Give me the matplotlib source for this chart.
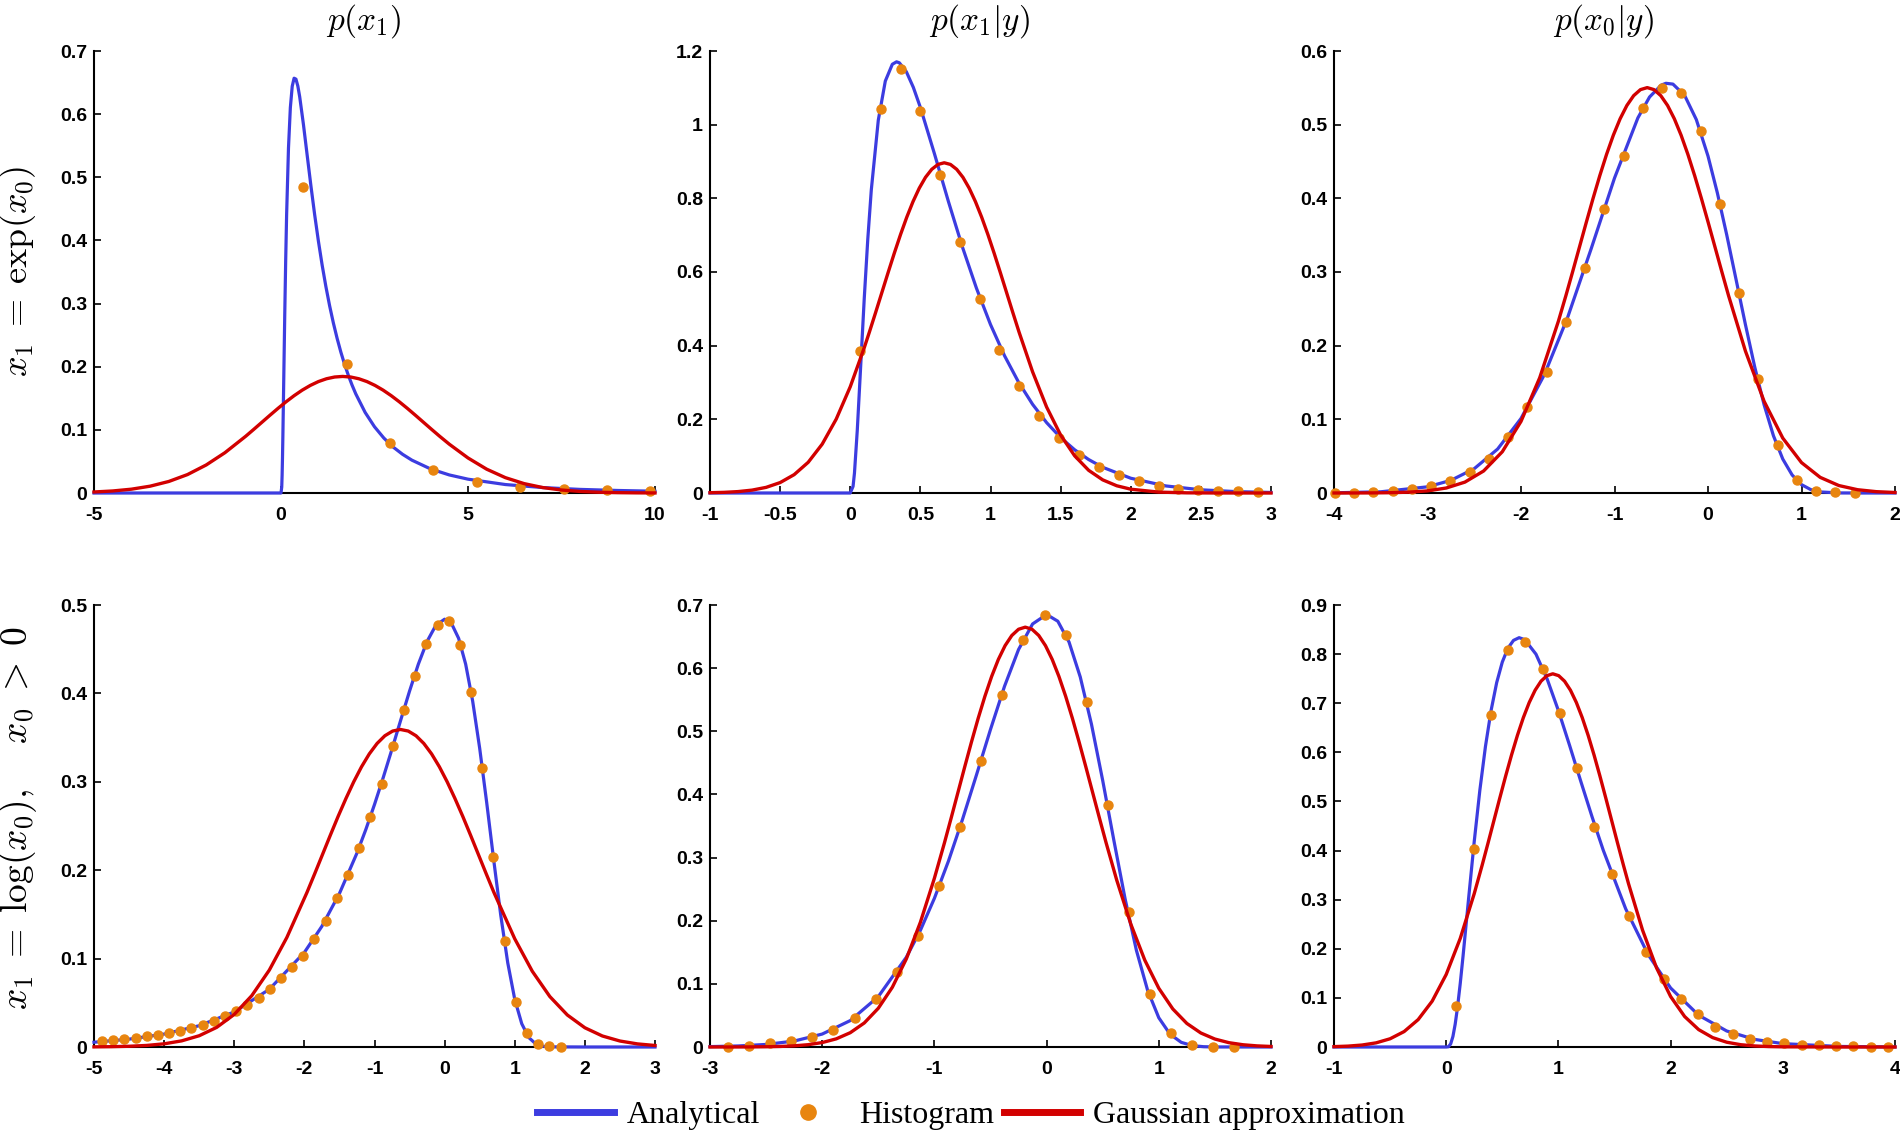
import matplotlib
matplotlib.use('Agg')
import matplotlib.pyplot as plt
from matplotlib.lines import Line2D
from matplotlib.ticker import FormatStrFormatter

plt.rcParams['mathtext.fontset'] = 'cm'
plt.rcParams['axes.unicode_minus'] = False

BLUE = '#3c3ce0'
RED = '#d20000'
ORANGE = '#e8850f'

# ---- row 1: x1 = exp(x0) ----
# p(x1)
p1_blue_x = [-5, 0, 0.02, 0.03, 0.04, 0.05, 0.07, 0.1, 0.125, 0.15, 0.2, 0.25, 0.3, 0.35, 0.4, 0.45,
             0.5, 0.6, 0.7, 0.8, 0.9, 1.0, 1.1, 1.2, 1.3, 1.4, 1.5, 1.6, 1.7, 1.8, 1.9, 2.0, 2.25,
             2.5, 2.75, 3, 3.25, 3.5, 4, 4.5, 5, 6, 7, 8, 9, 10]
p1_blue_y = [0, 0, 0.0095, 0.0285, 0.0562, 0.0898, 0.1660, 0.2815, 0.3673, 0.4400, 0.5463, 0.6104,
             0.6441, 0.6569, 0.6554, 0.6445, 0.6275, 0.5836, 0.5348, 0.4864, 0.4408, 0.3989, 0.3610,
             0.3270, 0.2965, 0.2693, 0.2450, 0.2232, 0.2038, 0.1865, 0.1709, 0.1569, 0.1276, 0.1049,
             0.0870, 0.0727, 0.0613, 0.0520, 0.0381, 0.0286, 0.0219, 0.0134, 0.0086, 0.0057, 0.0040,
             0.0028]
p1_red_x = [-5, -4.5, -4, -3.5, -3, -2.5, -2, -1.5, -0.944, -0.728, -0.512, -0.296, -0.080, 0.136,
            0.352, 0.568, 0.785, 1.001, 1.217, 1.433, 1.649, 1.865, 2.081, 2.297, 2.513, 2.730,
            2.946, 3.162, 3.378, 3.594, 3.810, 4.026, 4.242, 4.5, 5, 5.5, 6, 6.5, 7, 7.5, 8, 8.5,
            9, 9.5, 10]
p1_red_y = [0.00162, 0.00322, 0.00605, 0.0108, 0.01826, 0.0292, 0.0444, 0.0638, 0.08985, 0.10080,
            0.11196, 0.12312, 0.13405, 0.14449, 0.15419, 0.16291, 0.17041, 0.17648, 0.18094,
            0.18368, 0.18460, 0.18368, 0.18094, 0.17648, 0.17041, 0.16291, 0.15419, 0.14449,
            0.13405, 0.12312, 0.11196, 0.10080, 0.08985, 0.0773, 0.0555, 0.0377, 0.0243, 0.01487,
            0.0086, 0.00472, 0.00246, 0.00121, 0.00057, 0.00025, 0.0001]
p1_hist_x = [0.595, 1.755, 2.915, 4.075, 5.235, 6.395, 7.555, 8.715, 9.875]
p1_hist_y = [0.484, 0.204, 0.079, 0.036, 0.018, 0.010, 0.0065, 0.0045, 0.003]

# p(x1|y)
p2_blue_x = [-1, 0, 0.02, 0.03, 0.05, 0.07, 0.1, 0.125, 0.15, 0.2, 0.25, 0.3, 0.33, 0.35, 0.4, 0.45,
             0.5, 0.6, 0.7, 0.8, 0.9, 1.0, 1.1, 1.2, 1.3, 1.4, 1.5, 1.6, 1.7, 1.8, 2.0, 2.25, 2.5,
             2.75, 3.0]
p2_blue_y = [0, 0, 0.0180, 0.0539, 0.1695, 0.3131, 0.5295, 0.6889, 0.8225, 1.0123, 1.1184, 1.1640,
             1.1706, 1.1680, 1.1437, 1.1011, 1.0468, 0.9215, 0.7913, 0.6677, 0.5558, 0.4574, 0.3727,
             0.3009, 0.2408, 0.1911, 0.1504, 0.1173, 0.0908, 0.0698, 0.0401, 0.0192, 0.0087, 0.0038,
             0.0015]
p2_red_x = [-1.0, -0.9, -0.8, -0.7, -0.6, -0.5, -0.4, -0.3, -0.2, -0.1, 0.0, 0.1, 0.136, 0.1805,
            0.225, 0.2695, 0.314, 0.3585, 0.403, 0.4475, 0.492, 0.5365, 0.581, 0.6255, 0.67,
            0.7145, 0.759, 0.8035, 0.848, 0.8925, 0.937, 0.9815, 1.026, 1.0705, 1.115, 1.1595,
            1.204, 1.3, 1.4, 1.5, 1.6, 1.7, 1.8, 1.9, 2.0, 2.2, 2.4, 2.6, 3.0]
p2_red_y = [0.00078, 0.00178, 0.00383, 0.00784, 0.01528, 0.02829, 0.04983, 0.08329, 0.13264,
            0.20064, 0.28845, 0.39466, 0.43637, 0.48955, 0.54375, 0.59795, 0.65099, 0.70170,
            0.74882, 0.79116, 0.82758, 0.85705, 0.87875, 0.89203, 0.8965, 0.89203, 0.87875,
            0.85705, 0.82758, 0.79116, 0.74882, 0.70170, 0.65099, 0.59795, 0.54375, 0.48955,
            0.43637, 0.32911, 0.23347, 0.15743, 0.10096, 0.06155, 0.03567, 0.01966, 0.0103,
            0.00243, 0.00047, 0.00008, 0.0]
p2_hist_x = [0.073, 0.218, 0.360, 0.500, 0.642, 0.785, 0.924, 1.064, 1.206, 1.349, 1.491, 1.631,
             1.773, 1.916, 2.058, 2.198, 2.340, 2.483, 2.622, 2.765, 2.907]
p2_hist_y = [0.386, 1.042, 1.152, 1.037, 0.863, 0.682, 0.527, 0.389, 0.290, 0.208, 0.149, 0.103,
             0.070, 0.049, 0.032, 0.018, 0.012, 0.009, 0.006, 0.005, 0.002]

# p(x0|y)
p3_blue_x = [-4, -3.5, -3, -2.75, -2.5, -2.25, -2, -1.75, -1.5, -1.25, -1, -0.75, -0.625, -0.5,
             -0.45, -0.375, -0.25, -0.125, 0, 0.1, 0.2, 0.3, 0.4, 0.5, 0.6, 0.7, 0.8, 0.9, 1.0,
             1.1, 1.2, 1.4, 1.6, 2.0]
p3_blue_y = [0.00025, 0.00165, 0.00837, 0.01716, 0.03302, 0.05967, 0.10113, 0.16065, 0.23882,
             0.33139, 0.42748, 0.50917, 0.53755, 0.55371, 0.55615, 0.55507, 0.53971, 0.50695,
             0.45741, 0.40742, 0.35061, 0.28990, 0.22879, 0.17094, 0.11977, 0.07771, 0.04602,
             0.02443, 0.01137, 0.00452, 0.00148, 0.00008, 0.0, 0.0]
p3_red_x = [-4.0, -3.8, -3.6, -3.4, -3.2, -3.0, -2.8, -2.6, -2.4, -2.2, -2.0, -1.8, -1.6, -1.52,
            -1.4475, -1.375, -1.3025, -1.23, -1.1575, -1.085, -1.0125, -0.94, -0.8675, -0.795,
            -0.7225, -0.65, -0.5775, -0.505, -0.4325, -0.36, -0.2875, -0.215, -0.1425, -0.07,
            0.0025, 0.075, 0.1475, 0.22, 0.4, 0.6, 0.8, 1.0, 1.2, 1.4, 1.6, 1.8, 2.0]
p3_red_y = [0.00001, 0.00004, 0.00014, 0.00041, 0.00114, 0.00288, 0.00676, 0.01477, 0.02987,
            0.05600, 0.09716, 0.15641, 0.23324, 0.26786, 0.30050, 0.33377, 0.36704, 0.39960,
            0.43072, 0.45965, 0.48564, 0.50799, 0.52608, 0.53940, 0.54756, 0.5503, 0.54756,
            0.53940, 0.52608, 0.50799, 0.48564, 0.45965, 0.43072, 0.39960, 0.36704, 0.33377,
            0.30050, 0.26786, 0.19280, 0.12449, 0.07448, 0.04129, 0.02122, 0.0101, 0.00446,
            0.00182, 0.00069]
p3_hist_x = [-3.991, -3.785, -3.579, -3.373, -3.167, -2.961, -2.756, -2.550, -2.344, -2.138,
             -1.932, -1.726, -1.520, -1.314, -1.108, -0.903, -0.697, -0.491, -0.285, -0.079,
             0.127, 0.333, 0.539, 0.745, 0.951, 1.156, 1.362, 1.568]
p3_hist_y = [0.0, 0.0005, 0.0014, 0.0027, 0.0059, 0.0090, 0.0167, 0.0289, 0.0465, 0.0755, 0.1166,
             0.1636, 0.2327, 0.3050, 0.3849, 0.4568, 0.5232, 0.5503, 0.5435, 0.4916, 0.3922,
             0.2711, 0.1554, 0.0655, 0.0181, 0.0032, 0.0009, 0.0]

# ---- row 2: x1 = log(x0), x0 > 0 ----
# p(x1)
p4_blue_x = [-5, -4.5, -4, -3.5, -3, -2.5, -2, -1.75, -1.5, -1.25, -1.125, -1, -0.875, -0.75,
             -0.625, -0.5, -0.375, -0.25, -0.125, 0, 0.1, 0.2, 0.3, 0.4, 0.5, 0.6, 0.7, 0.8, 0.9,
             1.0, 1.1, 1.2, 1.3, 1.4, 1.5, 2, 3]
p4_blue_y = [0.00538, 0.00887, 0.01461, 0.02408, 0.03968, 0.06528, 0.10700, 0.13657, 0.17366,
             0.21941, 0.24574, 0.27432, 0.30494, 0.33712, 0.37009, 0.40264, 0.43303, 0.45884,
             0.47705, 0.48394, 0.47878, 0.46224, 0.43308, 0.39119, 0.33790, 0.27642, 0.21155,
             0.14922, 0.09530, 0.05392, 0.02630, 0.01070, 0.00349, 0.00087, 0.00016, 0.0, 0.0]
p4_red_x = [-5, -4.75, -4.5, -4.25, -4, -3.75, -3.5, -3.25, -3, -2.75, -2.5, -2.25, -1.963,
            -1.852, -1.741, -1.630, -1.519, -1.407, -1.296, -1.185, -1.074, -0.963, -0.852,
            -0.741, -0.63, -0.519, -0.408, -0.297, -0.186, -0.075, 0.036, 0.147, 0.259, 0.370,
            0.481, 0.592, 0.703, 1, 1.25, 1.5, 1.75, 2, 2.25, 2.5, 2.75, 3]
p4_red_y = [0.00016, 0.00037, 0.00083, 0.00177, 0.0036, 0.00694, 0.01274, 0.02222, 0.03685,
            0.05808, 0.0870, 0.1239, 0.17484, 0.19615, 0.21786, 0.23958, 0.26083, 0.28115,
            0.30003, 0.31699, 0.33159, 0.34339, 0.35209, 0.35741, 0.3592, 0.35741, 0.35209,
            0.34339, 0.33159, 0.31699, 0.30003, 0.28115, 0.26083, 0.23958, 0.21786, 0.19615,
            0.17484, 0.1224, 0.0857, 0.0571, 0.0362, 0.02176, 0.01245, 0.00677, 0.0035, 0.00172]
p4_hist_x = [-4.886, -4.727, -4.567, -4.408, -4.248, -4.089, -3.929, -3.770, -3.610, -3.451,
             -3.291, -3.132, -2.972, -2.813, -2.653, -2.494, -2.334, -2.175, -2.015, -1.856,
             -1.696, -1.537, -1.377, -1.218, -1.058, -0.899, -0.739, -0.580, -0.420, -0.261,
             -0.101, 0.058, 0.218, 0.377, 0.537, 0.696, 0.856, 1.015, 1.175, 1.334, 1.494, 1.653]
p4_hist_y = [0.0066, 0.0075, 0.0089, 0.0098, 0.0120, 0.0137, 0.0160, 0.0186, 0.0217, 0.0253,
             0.0297, 0.0346, 0.0412, 0.0474, 0.0559, 0.0656, 0.0776, 0.0909, 0.1033, 0.1223,
             0.1427, 0.1684, 0.1941, 0.2252, 0.2598, 0.2970, 0.3409, 0.3816, 0.4202, 0.4561,
             0.4778, 0.4823, 0.4552, 0.4012, 0.3161, 0.2150, 0.1201, 0.0510, 0.0155, 0.0031,
             0.0009, 0.0]

# p(x1|y)
p5_blue_x = [-3, -2.75, -2.5, -2.25, -2, -1.75, -1.5, -1.25, -1.125, -1, -0.875, -0.75, -0.625,
             -0.5, -0.375, -0.25, -0.125, 0, 0.1, 0.2, 0.3, 0.4, 0.5, 0.6, 0.7, 0.8, 0.9, 1.0,
             1.1, 1.2, 1.3, 1.4, 1.5, 2]
p5_blue_y = [0.00062, 0.00164, 0.00406, 0.00942, 0.02050, 0.04181, 0.07980, 0.14218, 0.18473,
             0.23550, 0.29434, 0.36019, 0.43090, 0.50294, 0.57130, 0.62947, 0.66998, 0.68498,
             0.67431, 0.64131, 0.58602, 0.51113, 0.42208, 0.32680, 0.23437, 0.15337, 0.08997,
             0.04629, 0.02033, 0.00737, 0.00212, 0.00046, 0.00008, 0.0]
p5_red_x = [-3.0, -2.875, -2.75, -2.625, -2.5, -2.375, -2.25, -2.125, -2.0, -1.875, -1.75, -1.625,
            -1.5, -1.375, -1.25, -1.125, -1.0, -0.91, -0.85, -0.79, -0.73, -0.67, -0.61, -0.55,
            -0.49, -0.43, -0.37, -0.31, -0.25, -0.19, -0.13, -0.07, -0.01, 0.05, 0.11, 0.17, 0.23,
            0.29, 0.35, 0.41, 0.47, 0.53, 0.625, 0.75, 0.875, 1.0, 1.125, 1.25, 1.375, 1.5, 1.625,
            1.75, 1.875, 2.0]
p5_red_y = [0.00001, 0.00003, 0.00007, 0.00018, 0.0004, 0.00088, 0.00183, 0.00367, 0.00703,
            0.01289, 0.02264, 0.03808, 0.06134, 0.09459, 0.13960, 0.19750, 0.26730, 0.32364,
            0.36308, 0.40328, 0.44347, 0.48282, 0.52042, 0.55537, 0.58677, 0.61378, 0.63564,
            0.65173, 0.66158, 0.6649, 0.66158, 0.65173, 0.63564, 0.61378, 0.58677, 0.55537,
            0.52042, 0.48282, 0.44347, 0.40328, 0.36308, 0.32364, 0.26432, 0.19488, 0.13759,
            0.09301, 0.06021, 0.03732, 0.02215, 0.01259, 0.00685, 0.00357, 0.00178, 0.00085]
p5_hist_x = [-2.840, -2.652, -2.464, -2.276, -2.088, -1.900, -1.711, -1.523, -1.335, -1.147,
             -0.959, -0.771, -0.583, -0.395, -0.207, -0.018, 0.170, 0.358, 0.546, 0.734, 0.922,
             1.110, 1.298, 1.486, 1.674]
p5_hist_y = [0.0, 0.002, 0.0058, 0.0095, 0.0153, 0.0268, 0.0453, 0.0753, 0.1184, 0.1753, 0.2553,
             0.3489, 0.4537, 0.5579, 0.6453, 0.6842, 0.6526, 0.5468, 0.3832, 0.2132, 0.0847,
             0.0226, 0.0026, 0.0, 0.0]

# p(x0|y)
p6_blue_x = [-1, 0, 0.02, 0.04, 0.06, 0.08, 0.1, 0.125, 0.15, 0.2, 0.25, 0.3, 0.35, 0.4, 0.45,
             0.5, 0.55, 0.6, 0.65, 0.7, 0.8, 0.9, 1.0, 1.1, 1.2, 1.3, 1.4, 1.6, 1.8, 2.0, 2.25,
             2.5, 2.75, 3.0, 3.5, 4.0]
p6_blue_y = [0, 0, 0.00054, 0.00636, 0.02154, 0.04637, 0.07931, 0.12897, 0.18471, 0.30316,
             0.41876, 0.52302, 0.61223, 0.68520, 0.74204, 0.78382, 0.81209, 0.82797, 0.83347,
             0.82946, 0.79994, 0.74912, 0.68500, 0.61393, 0.54066, 0.46872, 0.40054, 0.28118,
             0.18805, 0.12020, 0.06468, 0.03261, 0.01543, 0.00686, 0.00113, 0.00015]
p6_red_x = [-1.0, -0.875, -0.75, -0.625, -0.5, -0.375, -0.25, -0.125, 0.0, 0.125, 0.25, 0.32,
            0.3725, 0.425, 0.4775, 0.53, 0.5825, 0.635, 0.6875, 0.74, 0.7925, 0.845, 0.8975, 0.95,
            1.0025, 1.055, 1.1075, 1.16, 1.2125, 1.265, 1.3175, 1.37, 1.4225, 1.475, 1.5275, 1.58,
            1.625, 1.75, 1.875, 2.0, 2.125, 2.25, 2.375, 2.5, 2.625, 2.75, 2.875, 3.0, 3.5, 4.0]
p6_red_y = [0.00077, 0.00181, 0.00402, 0.00844, 0.01676, 0.03144, 0.05577, 0.09333, 0.14770,
            0.22102, 0.31239, 0.36988, 0.41496, 0.46090, 0.50684, 0.55180, 0.59478, 0.63472,
            0.67061, 0.70148, 0.72646, 0.74485, 0.75611, 0.7599, 0.75611, 0.74485, 0.72646,
            0.70148, 0.67061, 0.63472, 0.59478, 0.55180, 0.50684, 0.46090, 0.41496, 0.36988,
            0.33251, 0.23799, 0.16094, 0.10284, 0.06209, 0.03541, 0.0191, 0.00973, 0.00468,
            0.00213, 0.00091, 0.00037, 0.00001, 0.0]
p6_hist_x = [0.091, 0.245, 0.399, 0.552, 0.706, 0.860, 1.014, 1.168, 1.321, 1.475, 1.629, 1.783,
             1.937, 2.090, 2.244, 2.398, 2.552, 2.706, 2.859, 3.013, 3.167, 3.321, 3.475, 3.628,
             3.782, 3.936]
p6_hist_y = [0.0832, 0.404, 0.6767, 0.8086, 0.8256, 0.7701, 0.6807, 0.5691, 0.4486, 0.3519,
             0.2659, 0.1935, 0.1394, 0.0968, 0.0663, 0.0413, 0.0271, 0.0169, 0.0108, 0.0074,
             0.0047, 0.0034, 0.0014, 0.0014, 0.0007, 0.0007]

panels = [
    (p1_blue_x, p1_blue_y, p1_hist_x, p1_hist_y, p1_red_x, p1_red_y,
     [-5, 0, 5, 10], [0, 0.1, 0.2, 0.3, 0.4, 0.5, 0.6, 0.7]),
    (p2_blue_x, p2_blue_y, p2_hist_x, p2_hist_y, p2_red_x, p2_red_y,
     [-1, -0.5, 0, 0.5, 1, 1.5, 2, 2.5, 3], [0, 0.2, 0.4, 0.6, 0.8, 1, 1.2]),
    (p3_blue_x, p3_blue_y, p3_hist_x, p3_hist_y, p3_red_x, p3_red_y,
     [-4, -3, -2, -1, 0, 1, 2], [0, 0.1, 0.2, 0.3, 0.4, 0.5, 0.6]),
    (p4_blue_x, p4_blue_y, p4_hist_x, p4_hist_y, p4_red_x, p4_red_y,
     [-5, -4, -3, -2, -1, 0, 1, 2, 3], [0, 0.1, 0.2, 0.3, 0.4, 0.5]),
    (p5_blue_x, p5_blue_y, p5_hist_x, p5_hist_y, p5_red_x, p5_red_y,
     [-3, -2, -1, 0, 1, 2], [0, 0.1, 0.2, 0.3, 0.4, 0.5, 0.6, 0.7]),
    (p6_blue_x, p6_blue_y, p6_hist_x, p6_hist_y, p6_red_x, p6_red_y,
     [-1, 0, 1, 2, 3, 4], [0, 0.1, 0.2, 0.3, 0.4, 0.5, 0.6, 0.7, 0.8, 0.9]),
]
col_titles = [r'$p(x_1)$', r'$p(x_1|y)$', r'$p(x_0|y)$']
row_labels = [r'$x_1\;=\;\exp(x_0)$', r'$x_1\;=\;\log(x_0),\quad\, x_0\;>\;0$']

W, H = 1900, 1136
fig = plt.figure(figsize=(W / 100, H / 100), dpi=100)

lefts = [94, 710, 1334]
tops = [51, 605]
aw, ah = 561, 442

for i, (bx, by, hx, hy, rx, ry, xt, yt) in enumerate(panels):
    r, c = divmod(i, 3)
    ax = fig.add_axes([lefts[c] / W, 1 - (tops[r] + ah) / H, aw / W, ah / H])
    ax.plot(bx, by, color=BLUE, lw=2.3, clip_on=False, zorder=3)
    ax.plot(hx, hy, ls='none', marker='o', ms=6.5, color=ORANGE, clip_on=False, zorder=4)
    ax.plot(rx, ry, color=RED, lw=2.4, clip_on=False, zorder=5)
    ax.set_xlim(xt[0], xt[-1])
    ax.set_ylim(yt[0], yt[-1])
    ax.set_xticks(xt)
    ax.set_yticks(yt)
    ax.xaxis.set_major_formatter(FormatStrFormatter('%g'))
    ax.yaxis.set_major_formatter(FormatStrFormatter('%g'))
    for s in ['top', 'right']:
        ax.spines[s].set_visible(False)
    for s in ['left', 'bottom']:
        ax.spines[s].set_linewidth(1.5)
    ax.tick_params(direction='in', length=5, width=1.2)
    ax.tick_params(axis='x', pad=10)
    ax.tick_params(axis='y', pad=5)
    for lab in ax.get_xticklabels() + ax.get_yticklabels():
        lab.set_fontfamily('Liberation Sans')
        lab.set_fontweight('bold')
        lab.set_fontsize(14)
    if r == 0:
        ax.text(0.5 - 11 / aw, 1 + 29.5 / ah, col_titles[c], transform=ax.transAxes,
                ha='center', va='center', fontsize=24)

fig.text(18 / W, 1 - 271 / H, row_labels[0], rotation=90, ha='center', va='center', fontsize=26)
fig.text(18 / W, 1 - 818 / H, row_labels[1], rotation=90, ha='center', va='center', fontsize=27)

handles = [Line2D([], [], color=BLUE, lw=5),
           Line2D([], [], ls='none', marker='o', ms=11, color=ORANGE),
           Line2D([], [], color=RED, lw=5)]
fig.legend(handles, ['Analytical', 'Histogram', 'Gaussian approximation'],
           loc='center', bbox_to_anchor=(971 / W, 1 - 1115 / H), ncol=3, frameon=False,
           prop={'family': 'Liberation Serif', 'size': 23}, handlelength=2.4,
           handletextpad=0.4, columnspacing=0.3)

fig.savefig('out.png', dpi=100)
